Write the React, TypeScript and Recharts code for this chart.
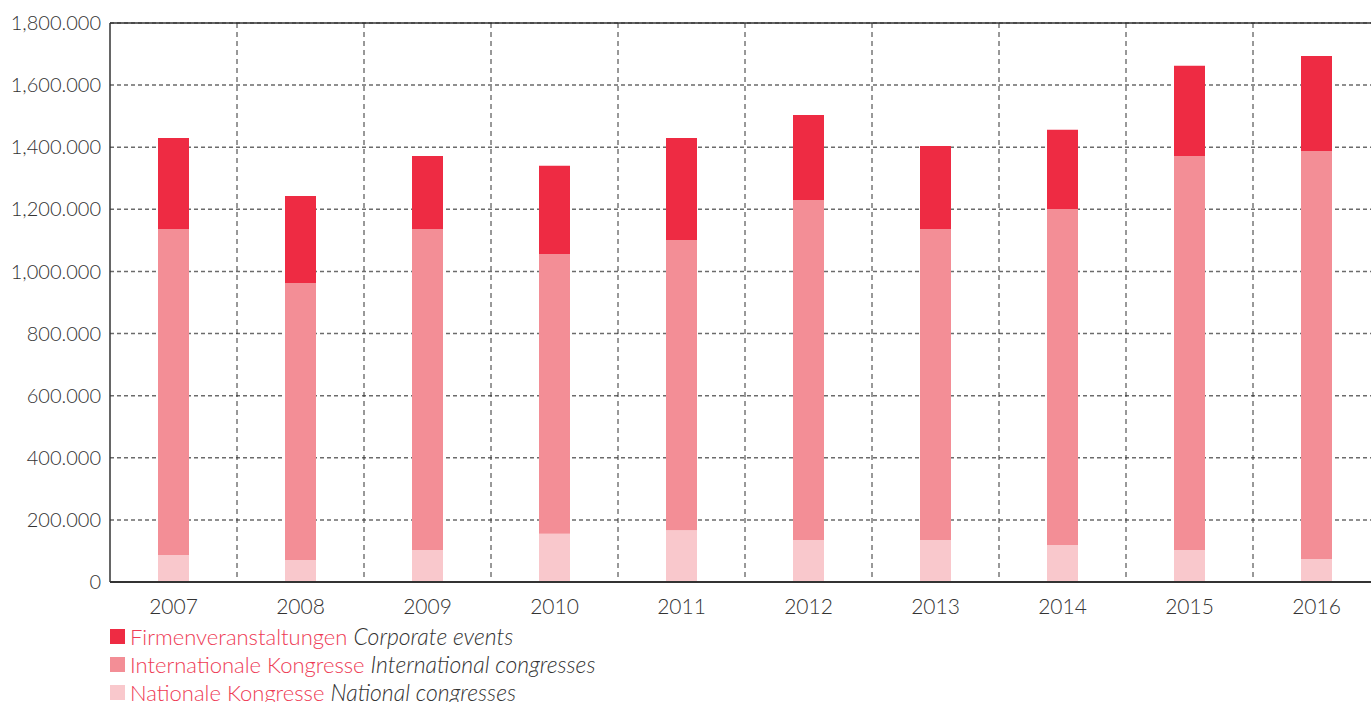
import { BarChart, Bar, XAxis, YAxis, CartesianGrid, ReferenceLine } from 'recharts';

const years = ['2007', '2008', '2009', '2010', '2011', '2012', '2013', '2014', '2015', '2016'];
const national = [87000, 71000, 103000, 155000, 167000, 135000, 135000, 119000, 103000, 74000];
const international = [1050000, 892000, 1034000, 901000, 934000, 1095000, 1002000, 1082000, 1269000, 1314000];
const corporate = [293000, 280000, 235000, 284000, 329000, 274000, 267000, 255000, 290000, 306000];
const yTicks = [0, 200000, 400000, 600000, 800000, 1000000, 1200000, 1400000, 1600000, 1800000];

const legendItems = [
  { de: 'Firmenveranstaltungen', en: 'Corporate events', color: '#EE2B43' },
  { de: 'Internationale Kongresse', en: 'International congresses', color: '#F38E96' },
  { de: 'Nationale Kongresse', en: 'National congresses', color: '#F9C8CC' },
];

const data = years.map((year, i) => ({
  year,
  national: national[i],
  international: international[i],
  corporate: corporate[i],
}));

const font = 'Lato, "Open Sans", sans-serif';

function formatTick(v: number) {
  if (v === 0) return '0';
  const s = String(v).replace(/\B(?=(\d{3})+(?!\d))/g, '.');
  const parts = s.split('.');
  if (parts.length > 2) return parts[0] + ',' + parts.slice(1).join('.');
  return s;
}

export default function App() {
  return (
    <div style={{ position: 'absolute', left: 0, top: 0, width: 1371, height: 702, overflow: 'hidden', fontFamily: font }}>
      <BarChart
        width={1380}
        height={702}
        data={data}
        margin={{ top: 23, right: 0, bottom: 90, left: 0 }}
      >
        <CartesianGrid
          horizontal={true}
          vertical={false}
          stroke="#6b6b6b"
          strokeWidth={1.5}
          strokeDasharray="4 3"
        />
        <CartesianGrid
          horizontal={false}
          vertical={true}
          stroke="#333"
          strokeWidth={1}
          strokeDasharray="5 4"
          verticalCoordinatesGenerator={({ offset }: any) =>
            years.slice(1).map((_, i) => offset.left + ((i + 1) * offset.width) / years.length)
          }
        />
        <XAxis
          dataKey="year"
          height={30}
          tickLine={false}
          tickSize={0}
          tickMargin={17}
          axisLine={{ stroke: '#333', strokeWidth: 2 }}
          tick={{ fill: '#333', fontSize: 21, fontFamily: font, fontWeight: 300 }}
        />
        <YAxis
          width={110}
          domain={[0, 1800000]}
          ticks={yTicks}
          tickFormatter={formatTick}
          tickLine={false}
          tickSize={0}
          tickMargin={9}
          axisLine={{ stroke: '#333', strokeWidth: 1.5 }}
          tick={{ fill: '#333', fontSize: 20, fontFamily: font, fontWeight: 300 }}
          interval={0}
        />
        <ReferenceLine y={1800000} stroke="#333" strokeWidth={1.5} />
        <Bar dataKey="national" stackId="a" fill="#F9C8CC" barSize={31} isAnimationActive={false} />
        <Bar dataKey="international" stackId="a" fill="#F38E96" barSize={31} isAnimationActive={false} />
        <Bar dataKey="corporate" stackId="a" fill="#EE2B43" barSize={31} isAnimationActive={false} />
      </BarChart>
      <div style={{ position: 'absolute', left: 110, top: 622 }}>
        {legendItems.map((item) => (
          <div key={item.de} style={{ display: 'flex', alignItems: 'center', height: 28, fontWeight: 300, whiteSpace: 'nowrap' }}>
            <span style={{ display: 'inline-block', width: 15, height: 15, background: item.color, marginRight: 5 }} />
            <span style={{ color: '#EE3B55', fontSize: 22 }}>{item.de}</span>
            <span style={{ color: '#333', fontStyle: 'italic', marginLeft: 6, fontSize: 23 }}>{item.en}</span>
          </div>
        ))}
      </div>
    </div>
  );
}
